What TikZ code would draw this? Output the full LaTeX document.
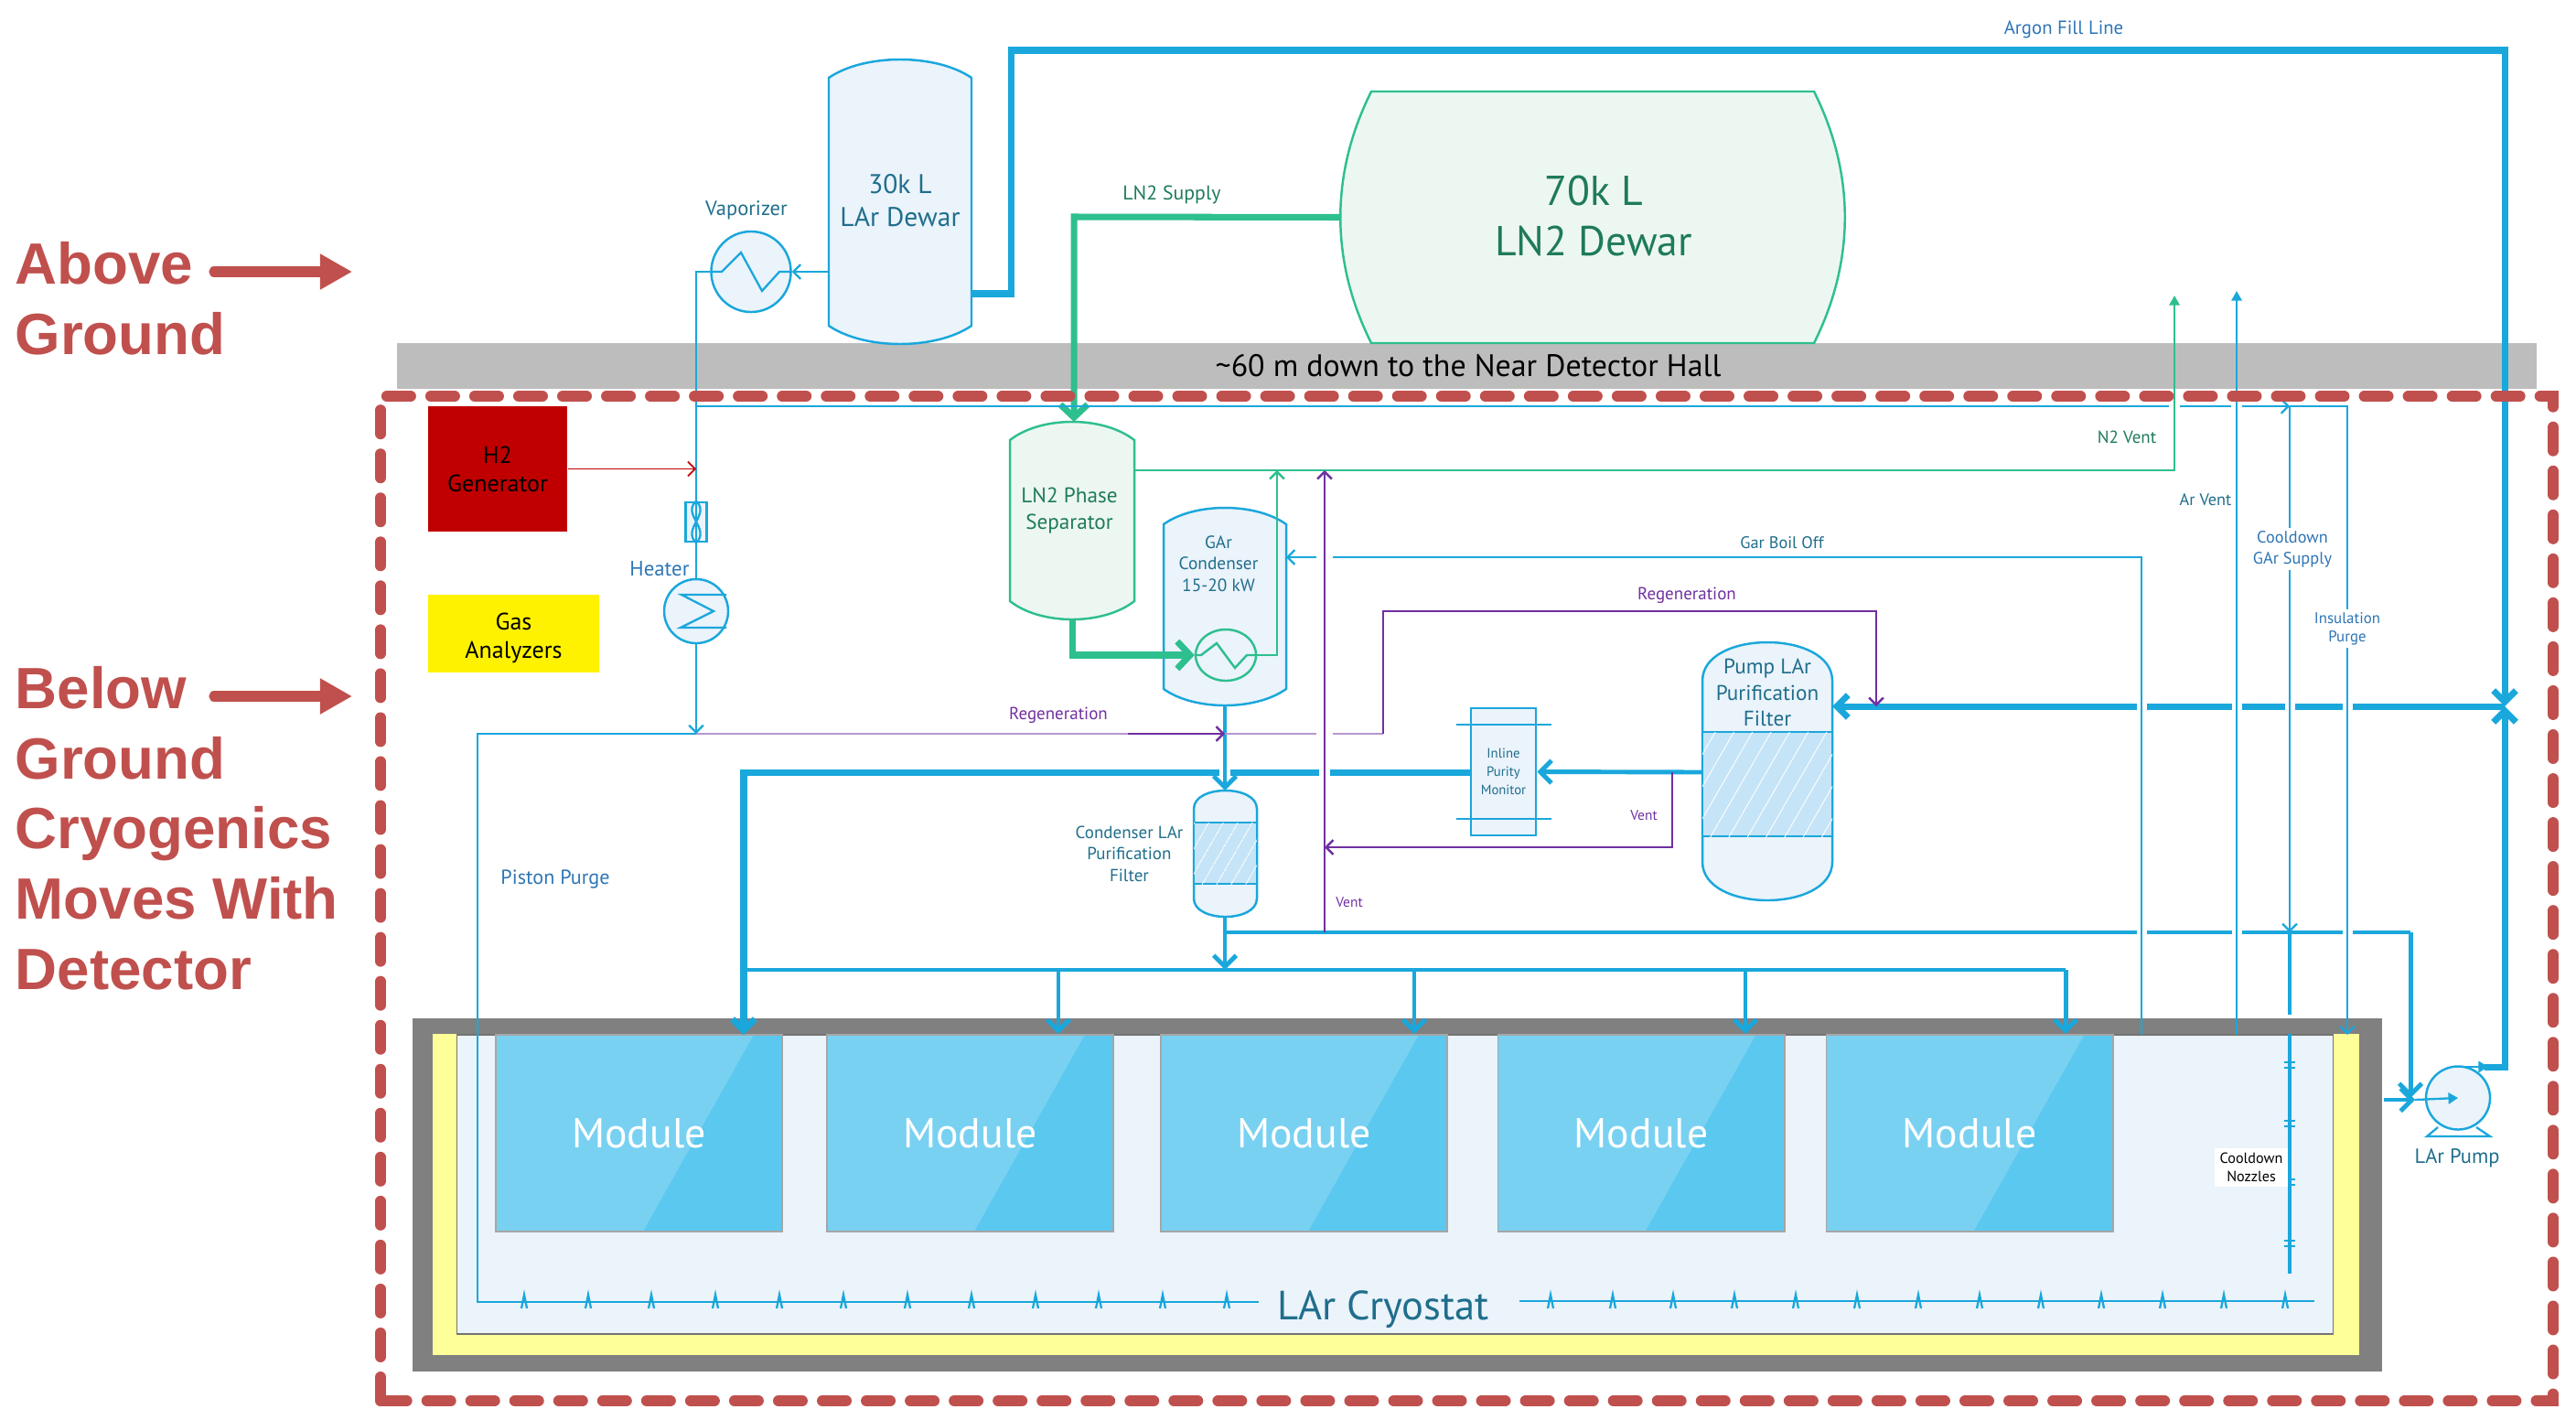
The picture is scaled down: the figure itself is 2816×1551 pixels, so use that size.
\documentclass[tikz,border=0pt]{standalone}
\usepackage{fontspec}
\setmainfont{PT Sans}
\newfontfamily\headfont{Liberation Sans}
\usepackage{xcolor}
\usepackage{tikz}
\usetikzlibrary{
	positioning,    % nodi relativi
	arrows.meta,    % punte Straight Barb
	calc,           % coordinate calcolate
	patterns.meta,  % tratteggio dei filtri
	shapes.geometric % ellissi degli scambiatori
}

\definecolor{pipeblue}{HTML}{1AA7DC}
\definecolor{pipegreen}{HTML}{2EBF8F}
\definecolor{pipepurple}{HTML}{7030A0}
\definecolor{softpurple}{HTML}{B597D0}
\definecolor{framered}{HTML}{C0504D}
\definecolor{paleblue}{HTML}{EBF3FB}
\definecolor{palegreen}{HTML}{EDF7F1}
\definecolor{modlight}{HTML}{79D1F1}
\definecolor{moddark}{HTML}{5BC8EF}
\definecolor{bedblue}{HTML}{C6E4F7}
\definecolor{txtblue}{HTML}{2E75B6}
\definecolor{txtteal}{HTML}{1F6E8C}
\definecolor{txtgreen}{HTML}{1E7B5A}
\definecolor{genred}{HTML}{C00000}
\definecolor{insulyellow}{HTML}{FFFF99}

% vessel with shallow domes: [style]{name}{x1}{y1}{x2}{y2}{dome}{text}
\newcommand{\vessel}[8][]{
	\pgfmathsetmacro{\vW}{#5-#3}
	\pgfmathsetmacro{\vH}{#6-#4}
	\draw[#1] (#3,#4+#7) .. controls (#3+0.25*\vW,#4-#7/3) and (#5-0.25*\vW,#4-#7/3) .. (#5,#4+#7)
		-- (#5,#6-#7) .. controls (#5-0.25*\vW,#6+#7/3) and (#3+0.25*\vW,#6+#7/3) .. (#3,#6-#7) -- cycle;
	\node[inner sep=0pt, minimum width=\vW*0.01cm, minimum height=\vH*0.01cm, align=center] (#2) at ({(#3+#5)/2},{(#4+#6)/2}) {#8};
}
% same, with round ends
\newcommand{\capsule}[7][]{
	\pgfmathsetmacro{\vW}{#5-#3}
	\pgfmathsetmacro{\vH}{#6-#4}
	\draw[#1] (#3,#4+#7) .. controls (#3,#4-#7/3) and (#5,#4-#7/3) .. (#5,#4+#7)
		-- (#5,#6-#7) .. controls (#5,#6+#7/3) and (#3,#6+#7/3) .. (#3,#6-#7) -- cycle;
	\node[inner sep=0pt, minimum width=\vW*0.01cm, minimum height=\vH*0.01cm] (#2) at ({(#3+#5)/2},{(#4+#6)/2}) {};
}

\begin{document}
\begin{tikzpicture}[
		x=0.01cm, y=-0.01cm,
		bluevessel/.style={draw=pipeblue, fill=paleblue, line width=0.7pt},
		greenvessel/.style={draw=pipegreen, fill=palegreen, line width=0.7pt},
		bigpipe/.style={draw=pipeblue, line width=2pt, -{Straight Barb[length=3.5pt,width=7pt]}},
		midpipe/.style={draw=pipeblue, line width=1.4pt, -{Straight Barb[length=3.5pt,width=7pt]}},
		thinpipe/.style={draw=pipeblue, line width=0.65pt, -{Straight Barb[length=2.2pt,width=4.5pt]}},
		thinline/.style={draw=pipeblue, line width=0.65pt},
		greenpipe/.style={draw=pipegreen, line width=2pt, -{Straight Barb[length=4pt,width=8.5pt]}},
		greenthin/.style={draw=pipegreen, line width=0.7pt, -{Straight Barb[length=2.2pt,width=4.5pt]}},
		purplepipe/.style={draw=pipepurple, line width=0.7pt, -{Straight Barb[length=2.2pt,width=4.5pt]}},
		softline/.style={draw=softpurple, line width=0.7pt},
		bigred/.style={draw=framered, line width=3.2pt, line cap=round, -{Triangle[length=10pt,width=10.5pt]}},
		headtext/.style={font=\headfont\bfseries\fontsize{18.1}{21.8}\selectfont, text=framered, align=left, inner sep=0pt, anchor=west},
		tag/.style={font=\fontsize{5.4}{6.7}\selectfont, align=center, inner sep=0pt},
		module/.style={draw=black!35, line width=0.5pt, fill=modlight, text=white, font=\fontsize{13}{14}\selectfont,
			minimum width=3.13cm, minimum height=2.15cm, inner sep=0pt,
			path picture={\fill[moddark] ($(path picture bounding box.north west)+(2.82cm,0)$) -- (path picture bounding box.north east)
				-- (path picture bounding box.south east) -- ($(path picture bounding box.south west)+(1.61cm,0)$) -- cycle;}},
		gapmark/.style={fill=white, draw=none}
	]

	\useasboundingbox (0,0) rectangle (2816,1551);

	% --- Ground band ---
	\node[fill=black!26, inner sep=0pt, minimum width=23.37cm, minimum height=0.5cm] (groundBand) at (1603.5,400) {};
	\node[inner sep=0pt, font=\fontsize{9.65}{11}\selectfont] (groundText) at (1605,400) {\textasciitilde60 m down to the Near Detector Hall};

	% --- Side headings ---
	\node[headtext] (aboveText) at (16,326) {Above\\Ground};
	\node[headtext] (belowText) at (16,905) {Below\\Ground\\Cryogenics\\Moves With\\Detector};
	\coordinate (aboveTail) at (234,297);
	\coordinate (aboveHead) at (385,297);
	\coordinate (belowTail) at (234,761);
	\coordinate (belowHead) at (385,761);
	\draw[bigred] (aboveTail) -- (aboveHead);
	\draw[bigred] (belowTail) -- (belowHead);

	% --- Boxes ---
	\node[fill=genred, minimum width=1.52cm, minimum height=1.37cm, inner sep=0pt, font=\fontsize{7.4}{8.8}\selectfont, align=center] (h2Gen) at (544,512.5) {H2\\Generator};
	\node[fill=yellow, minimum width=1.87cm, minimum height=0.85cm, inner sep=0pt, font=\fontsize{7.4}{8.8}\selectfont, align=center, text depth=0pt] (gasBox) at (561.5,692.5) {\raisebox{-1pt}{Gas}\\\raisebox{-1pt}{Analyzers}};

	% --- Cryostat ---
	\node[fill=black!50, minimum width=21.51cm, minimum height=3.86cm, inner sep=0pt] (cryoWall) at (1527.5,1306) {};
	\node[fill=insulyellow, minimum width=21.04cm, minimum height=3.505cm, inner sep=0pt] (cryoInsul) at (1526,1305.75) {};
	\node[fill=paleblue, draw=black!55, line width=0.4pt, minimum width=20.5cm, minimum height=3.27cm, inner sep=0pt] (cryoInner) at (1525,1294.5) {};
	\foreach \i/\xm in {1/698.5,2/1060.5,3/1425.5,4/1794,5/2153}
		\node[module] (mod\i) at (\xm,1238.5) {Module};

	% --- Vessels ---
	\vessel[bluevessel]{larDewar}{906}{65}{1062}{376}{20}{}
	\node[inner sep=0pt, align=center, text=txtteal, font=\fontsize{8.4}{10.2}\selectfont] (larDewarText) at (984,219) {30k L\\LAr Dewar};
	\node[inner sep=0pt] (lnDewar) at (1741,237.5) [minimum width=5.5cm, minimum height=2.75cm] {};
	\draw[greenvessel] (1499,100) -- (1983,100) .. controls (2028,190) and (2028,285) .. (1983,375) -- (1499,375) .. controls (1454,285) and (1454,190) .. (1499,100) -- cycle;
	\node[inner sep=0pt, align=center, text=txtgreen, font=\fontsize{13}{15.6}\selectfont] (lnDewarText) at (1742,236) {70k L\\LN2 Dewar};
	\vessel[greenvessel]{phaseSep}{1104}{461}{1240}{677}{20}{}
	\node[tag, text=txtgreen, font=\fontsize{6.6}{8.3}\selectfont] (phaseSepText) at (1169,558) {LN2 Phase\\Separator};
	\vessel[bluevessel]{garCond}{1272}{555}{1406}{771}{18}{}
	\node[tag, text=txtteal, font=\fontsize{5.5}{6.7}\selectfont] (garCondText) at (1332,616) {GAr\\Condenser\\15-20 kW};

	\capsule[bluevessel]{condFilter}{1305}{864}{1374}{1002}{20}
	\draw[draw=pipeblue, line width=0.7pt, fill=bedblue, postaction={pattern={Lines[angle=60,distance=4pt,line width=0.25pt]}, pattern color=white}] (1305,899) rectangle (1374,966);
	\node[tag, text=txtteal, anchor=east] (condFilterText) at (1294,933) {Condenser LAr\\Purification\\Filter};

	\capsule[bluevessel]{pumpFilter}{1861}{702}{2003}{984}{42}
	\draw[draw=pipeblue, line width=0.7pt, fill=bedblue, postaction={pattern={Lines[angle=60,distance=5pt,line width=0.25pt]}, pattern color=white}] (1861,800) rectangle (2003,914);
	\node[tag, text=txtteal, font=\fontsize{6.6}{8.2}\selectfont] (pumpFilterText) at (1932,757) {Pump LAr\\Purification\\Filter};

	% --- Inline purity monitor ---
	\node[draw=pipeblue, fill=paleblue, line width=0.7pt, minimum width=0.71cm, minimum height=1.39cm, inner sep=0pt, text=txtteal, font=\fontsize{4.2}{5.6}\selectfont, align=center] (purityMon) at (1643.5,843.5) {Inline\\Purity\\Monitor};
	\coordinate (monBarA) at (1592,792);
	\coordinate (monBarB) at (1592,895);
	\draw[thinline] (monBarA) -- ++(104,0);
	\draw[thinline] (monBarB) -- ++(104,0);

	% --- Heat exchangers ---
	\node[ellipse, draw=pipeblue, fill=paleblue, line width=0.7pt, minimum width=0.87cm, minimum height=0.88cm, inner sep=0pt] (vaporizer) at (821,297) {};
	\node[ellipse, draw=pipeblue, fill=paleblue, line width=0.7pt, minimum width=0.7cm, minimum height=0.7cm, inner sep=0pt] (heater) at (761,668) {};
	\node[ellipse, draw=pipegreen, fill=paleblue, line width=0.7pt, minimum width=0.66cm, minimum height=0.56cm, inner sep=0pt] (condHx) at (1340,716) {};
	\node[ellipse, draw=pipeblue, fill=paleblue, line width=0.7pt, minimum width=0.7cm, minimum height=0.69cm, inner sep=0pt] (larPump) at (2687,1200) {};
	\draw[thinline] (2665,1232) -- (2653,1242) -- (2722,1242) -- (2707,1232);
	\draw[thinline] (vaporizer.west) -- (789,297) -- (810,276) -- (833,318) -- (852,297) -- (vaporizer.east);
	\draw[thinline] (794,650) -- (745,650) -- (780,668) -- (744,686) -- (794,686);
	\draw[draw=pipegreen, line width=0.7pt] (condHx.west) -- (1313,716) -- (1330,703) -- (1350,730) -- (1363,716) -- (condHx.east);

	% --- Valve on the gas line ---
	\node[draw=pipeblue, fill=paleblue, line width=0.7pt, minimum width=0.23cm, minimum height=0.43cm, inner sep=0pt] (gasValve) at (761,570.5) {};

	% --- Green lines ---
	\coordinate (lnTurn) at (1174,237);
	\coordinate (sepBottom) at (1172,677);
	\coordinate (sepTurn) at (1172,716);
	\coordinate (ventOut) at (1240,514);
	\coordinate (ventUp) at (2377,514);
	\coordinate (ventEnd) at (2377,323);
	\coordinate (hxTurn) at (1396,716);
	\coordinate (hxEnd) at (1396,514);
	\coordinate (sepTop) at (1174,461);
	\draw[greenthin, -{Triangle[length=3pt,width=3.2pt]}] (ventOut) -- (ventUp) -- (ventEnd);
	\draw[greenthin] (condHx.east) -- (hxTurn) -- (hxEnd);
	\draw[greenpipe] (lnDewar.west) -- (lnTurn) -- (sepTop);
	\draw[greenpipe] (sepBottom) -- (sepTurn) -- (condHx.west);

	% --- Argon fill and pump discharge ---
	\coordinate (fillOut) at (1062,321);
	\coordinate (fillUp) at (1105,321);
	\coordinate (fillTop) at (1105,55);
	\coordinate (fillRight) at (2738,55);
	\coordinate (pumpCross) at (2738,772);
	\coordinate (pumpOut) at (2738,1166);
	\coordinate (pumpStub) at (2716,1166);
	\coordinate (pumpTop) at (2693,1166);
	\coordinate (pumpTip) at (2720,1166);
	\coordinate (filterIn) at (2003,772);
	\draw[bigpipe] (fillOut) -- (fillUp) -- (fillTop) -- (fillRight) -- (pumpCross);
	\draw[bigpipe] (pumpStub) -- (pumpOut) -- (pumpCross);
	\draw[thinline, -{Triangle[length=3pt,width=3.5pt]}] (pumpTop) -- (pumpTip);
	\draw[bigpipe] (pumpCross) -- (filterIn);

	% --- Filter to monitor to modules ---
	\coordinate (filterOut) at (1861,844);
	\coordinate (ventTee) at (1828,844);
	\coordinate (monLeft) at (1608,844);
	\coordinate (bigCorner) at (813,844);
	\coordinate (bigDrop) at (813,1131);
	\draw[midpipe] (filterOut) -- (purityMon.east);
	\draw[bigpipe] (monLeft) -- (bigCorner) -- (bigDrop);

	% --- Condenser outlet and filter ---
	\coordinate (condOut) at (1339,771);
	\coordinate (filterTop) at (1339,864);
	\coordinate (condFilterOut) at (1339,1002);
	\coordinate (headerTee) at (1339,1060);
	\coordinate (returnTee) at (1339,1019);
	\coordinate (returnRight) at (2635,1019);
	\coordinate (pumpInDown) at (2635,1200);
	\coordinate (headerLeft) at (813,1060);
	\coordinate (headerRight) at (2258,1060);
	\coordinate (cryoOut) at (2606,1202);
	\coordinate (cryoOutEnd) at (2640,1202);
	\draw[midpipe, arrows=-] (headerLeft) -- (headerRight);
	\draw[midpipe] (condFilterOut) -- (headerTee);
	\draw[midpipe, arrows=-] (returnTee) -- (returnRight);
	\draw[midpipe] (returnRight) -- (pumpInDown);
	\draw[midpipe] (cryoOut) -- (cryoOutEnd);
	\draw[thinline, -{Triangle[length=3pt,width=3.5pt]}] (cryoOutEnd) -- (larPump.center);
	\foreach \i/\xd in {2/1157,3/1546,4/1908,5/2258}{
		\coordinate (hdr\i) at (\xd,1060);
		\draw[midpipe] (hdr\i) -- (hdr\i |- mod\i.north);
	}
	% gaps where the thin lines cross
	\foreach \xg in {1339,1448}
		\fill[gapmark] (\xg-6,838) rectangle (\xg+6,850);
	\draw[midpipe] (condOut) -- (filterTop);

	\foreach \xg in {2341,2445,2503,2566}
		\fill[gapmark] (\xg-5.5,766) rectangle (\xg+5.5,778);
	\foreach \xg in {2341,2445,2566}
		\fill[gapmark] (\xg-5.5,1013) rectangle (\xg+5.5,1025);

	% --- Purple lines ---
	\coordinate (regenStart) at (761,802);
	\coordinate (regenDark) at (1233,802);
	\coordinate (regenArrow) at (1339,802);
	\coordinate (regenUp) at (1512,802);
	\coordinate (regenTop) at (1512,668);
	\coordinate (regenRight) at (2051,668);
	\coordinate (regenEnd) at (2051,772);
	\coordinate (ventA) at (1828,926);
	\coordinate (ventB) at (1448,926);
	\coordinate (ventBottom) at (1448,1019);
	\coordinate (ventTop) at (1448,514);
	\draw[softline] (regenStart) -- (regenDark);
	\draw[purplepipe] (regenDark) -- (regenArrow);
	\draw[softline] (regenArrow) -- (1439,802);
	\draw[softline] (1457,802) -- (regenUp);
	\draw[purplepipe] (regenUp) -- (regenTop) -- (regenRight) -- (regenEnd);
	\draw[purplepipe] (ventTee) -- (ventA) -- (ventB);
	\draw[purplepipe] (ventBottom) -- (ventTop);

	% --- Thin argon lines ---
	\coordinate (vapDown) at (761,297);
	\coordinate (gasTop) at (761,444);
	\coordinate (pistonTee) at (761,802);
	\coordinate (pistonCorner) at (522,802);
	\coordinate (pistonFloor) at (522,1423);
	\coordinate (sprayEndA) at (1376,1423);
	\coordinate (sprayStartB) at (1661,1422);
	\coordinate (sprayEndB) at (2530,1422);
	\coordinate (boilFloor) at (2341,1131);
	\coordinate (boilTop) at (2341,609);
	\coordinate (boilEnd) at (1406,609);
	\coordinate (arFloor) at (2445,1131);
	\coordinate (arTop) at (2445,318);
	\coordinate (supplyTee) at (2503,444);
	\coordinate (supplyEnd) at (2566,444);
	\coordinate (purgeEnd) at (2566,1131);
	\coordinate (coolDownEnd) at (2503,1019);
	\draw[thinline] (vaporizer.west) -- (vapDown) -- (gasTop);
	\draw[thinline] (gasTop) -- (heater.north);
	\draw[thinpipe] (heater.south) -- (pistonTee);
	\draw[thinline] (pistonTee) -- (pistonCorner) -- (pistonFloor) -- (sprayEndA);
	\draw[thinline] (sprayStartB) -- (sprayEndB);
	\draw[thinpipe] (larDewar.west |- vaporizer.east) -- (vaporizer.east);
	\draw[thinline] (gasTop) -- (2371,444);
	\draw[thinline] (2383,444) -- (2439,444);
	\draw[thinpipe] (2451,444) -- (supplyTee);
	\draw[thinpipe] (supplyTee) -- (supplyEnd) -- (purgeEnd);
	\draw[thinpipe] (supplyTee) -- (coolDownEnd);
	\draw[thinpipe, arrows=-] (boilFloor) -- (boilTop) -- (1457,609);
	\draw[thinpipe] (1439,609) -- (boilEnd);
	\draw[thinline, -{Triangle[length=3pt,width=3.2pt]}] (arFloor) -- (arTop);
	\draw[line width=0.5pt, draw=genred, -{Straight Barb[length=2.2pt,width=4.5pt]}] (h2Gen.east) -- (h2Gen.east -| gasTop);

	% valve symbol on top of the gas line
	\draw[thinline] (gasValve.north) .. controls (745,562) and (777,578) .. (gasValve.south);
	\draw[thinline] (gasValve.north) .. controls (777,562) and (745,578) .. (gasValve.south);

	% --- Nozzles ---
	\foreach \xs in {573,643,712,782,852,922,992,1062,1132,1201,1271,1341}
		\draw[thinline] (\xs-3,1430) -- (\xs,1415) -- (\xs+3,1430);
	\foreach \xs in {1695,1763,1829,1896,1963,2030,2097,2164,2231,2297,2364,2431,2498}
		\draw[thinline] (\xs-3,1430) -- (\xs,1415) -- (\xs+3,1430);
	\coordinate (coolA) at (2503,1019);
	\coordinate (coolB) at (2503,1109);
	\coordinate (coolC) at (2503,1130);
	\coordinate (coolD) at (2503,1392);
	\draw[draw=pipeblue, line width=1.2pt] (coolA) -- (coolB);
	\draw[draw=pipeblue, line width=1.2pt] (coolC) -- (coolD);
	\foreach \ys in {1164,1228,1292,1359}
		\draw[thinline] (2497,\ys-3) -- (2509,\ys-3) (2497,\ys+3) -- (2509,\ys+3);

	% --- Frame over everything ---
	\draw[draw=framered, line width=3.4pt, line cap=round, dash pattern=on 7.4pt off 6.26pt] (416,1531) -- (416,433) -- (2791,433) -- (2791,1531) -- cycle;

	% --- Labels ---
	\node[tag, text=txtblue, font=\fontsize{5.9}{6.7}\selectfont] (fillLabel) at (2256,32) {Argon Fill Line};
	\node[tag, text=txtgreen, font=\fontsize{6.2}{6.7}\selectfont] (lnLabel) at (1281,213) {LN2 Supply};
	\node[tag, text=txtteal, font=\fontsize{6.4}{6.7}\selectfont] (vapLabel) at (816,230) {Vaporizer};
	\node[tag, text=txtblue, font=\fontsize{6.5}{6.7}\selectfont] (heatLabel) at (721,622) {Heater};
	\node[tag, text=txtgreen] (ventN2Label) at (2325,478) {N2 Vent};
	\node[tag, text=txtteal, font=\fontsize{5.2}{6.7}\selectfont] (ventArLabel) at (2411,546) {Ar Vent};
	\node[tag, text=txtteal, font=\fontsize{5.2}{6.7}\selectfont] (boilLabel) at (1948,593) {Gar Boil Off};
	\node[tag, text=pipepurple] (regenTopLabel) at (1844,651) {Regeneration};
	\node[tag, text=pipepurple] (regenLowLabel) at (1157,782) {Regeneration};
	\node[tag, text=pipepurple, font=\fontsize{4.4}{5.2}\selectfont] (ventMonLabel) at (1797,891) {Vent};
	\node[tag, text=pipepurple, font=\fontsize{4.4}{5.2}\selectfont] (ventLowLabel) at (1475,986) {Vent};
	\node[tag, text=txtblue, fill=white, inner sep=1pt, font=\fontsize{5.2}{6.5}\selectfont] (coolLabel) at (2506,600) {Cooldown\\GAr Supply};
	\node[tag, text=txtblue, fill=white, inner sep=1pt, font=\fontsize{4.8}{5.6}\selectfont] (purgeLabel) at (2566,687) {Insulation\\Purge};
	\node[tag, text=txtblue, font=\fontsize{6.3}{6.7}\selectfont] (pistonLabel) at (607,961) {Piston Purge};
	\node[tag, text=txtteal, font=\fontsize{6.4}{6.7}\selectfont] (pumpLabel) at (2686,1266) {LAr Pump};
	\node[tag, fill=white, text=black, inner sep=1.5pt, font=\fontsize{4.6}{5.8}\selectfont] (nozzleLabel) at (2461,1276) {Cooldown\\Nozzles};
	\node[inner sep=0pt, text=txtteal, font=\fontsize{12.7}{14}\selectfont] (cryoLabel) at (1512,1431) {LAr Cryostat};
\end{tikzpicture}
\end{document}
